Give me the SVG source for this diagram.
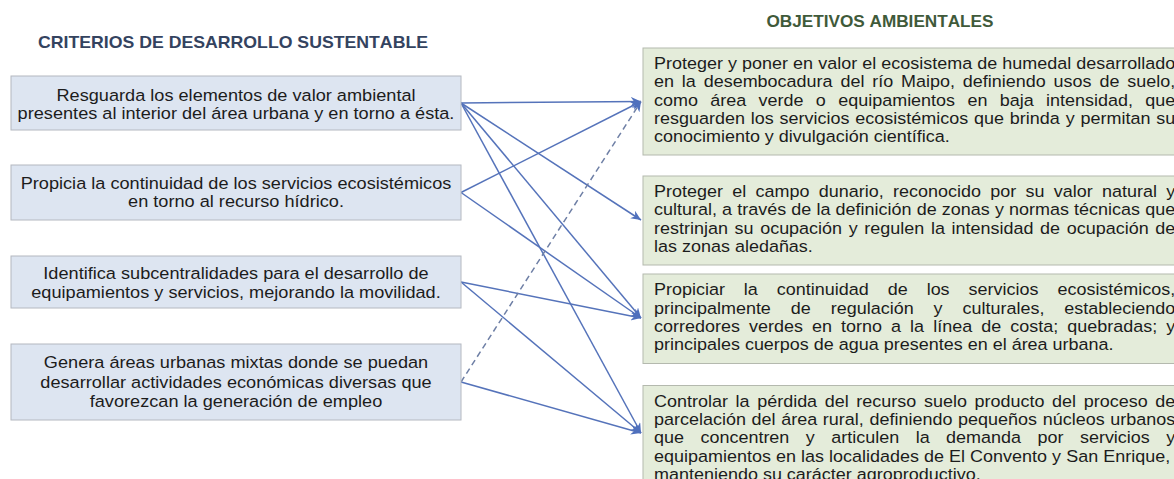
<svg xmlns="http://www.w3.org/2000/svg" width="1174" height="479" viewBox="0 0 1174 479">
<defs>
<style>
.t{font-family:"Liberation Sans",Arial,sans-serif;font-size:17px;fill:#1c1c1c;font-kerning:none}
.hd{font-family:"Liberation Sans",Arial,sans-serif;font-weight:bold;font-kerning:none}
.lb{fill:#dde5f1;stroke:#b4b8c0;stroke-width:1}
.rb{fill:#e4ecda;stroke:#b4b9ae;stroke-width:1}
.c{fill:none;stroke:#5573ba;stroke-width:1.5;marker-end:url(#ah)}
.d{fill:none;stroke:#6e7fa5;stroke-width:1.5;stroke-dasharray:6 4;marker-end:url(#ah)}
</style>
<marker id="ah" markerUnits="userSpaceOnUse" markerWidth="11" markerHeight="9" refX="10" refY="4.5" orient="auto">
<path d="M0,0 L10,4.5 L0,9 L3,4.5 z" fill="#4f70bd"/>
</marker>
</defs>
<rect width="1174" height="479" fill="#ffffff"/>
<text class="hd" x="233" y="48" font-size="17" fill="#34435f" text-anchor="middle" textLength="390" lengthAdjust="spacingAndGlyphs">CRITERIOS DE DESARROLLO SUSTENTABLE</text>
<text class="hd" x="880" y="27" font-size="16" fill="#3f5a3a" text-anchor="middle" textLength="227" lengthAdjust="spacingAndGlyphs">OBJETIVOS AMBIENTALES</text>

<g id="connectors">
<line class="c" x1="461" y1="103" x2="641" y2="101.5"/>
<line class="c" x1="461" y1="103" x2="641" y2="220"/>
<line class="c" x1="461" y1="103" x2="641" y2="318"/>
<line class="c" x1="461" y1="103" x2="641" y2="433"/>
<line class="c" x1="461" y1="192.5" x2="641" y2="101.5"/>
<line class="c" x1="461" y1="192.5" x2="641" y2="318"/>
<line class="c" x1="461" y1="282" x2="641" y2="318"/>
<line class="c" x1="461" y1="282" x2="641" y2="433"/>
<line class="d" x1="461" y1="382" x2="641" y2="101.5"/>
<line class="c" x1="461" y1="382" x2="641" y2="433"/>
</g>

<g id="criterio1">
<rect class="lb" x="11" y="76" width="450" height="54"/>
<text class="t" text-anchor="middle" transform="translate(236 0) scale(1.068 1)"><tspan x="0" y="101">Resguarda los elementos de valor ambiental</tspan><tspan x="0" y="119.5">presentes al interior del área urbana y en torno a ésta.</tspan></text>
</g>
<g id="criterio2">
<rect class="lb" x="11" y="165" width="450" height="55"/>
<text class="t" text-anchor="middle" transform="translate(236 0) scale(1.068 1)"><tspan x="0" y="189">Propicia la continuidad de los servicios ecosistémicos</tspan><tspan x="0" y="207.5">en torno al recurso hídrico.</tspan></text>
</g>
<g id="criterio3">
<rect class="lb" x="11" y="256" width="450" height="52"/>
<text class="t" text-anchor="middle" transform="translate(236 0) scale(1.068 1)"><tspan x="0" y="279">Identifica subcentralidades para el desarrollo de</tspan><tspan x="0" y="297.5">equipamientos y servicios, mejorando la movilidad.</tspan></text>
</g>
<g id="criterio4">
<rect class="lb" x="11" y="344" width="450" height="76"/>
<text class="t" text-anchor="middle" transform="translate(236 0) scale(1.068 1)"><tspan x="0" y="368.5">Genera áreas urbanas mixtas donde se puedan</tspan><tspan x="0" y="388">desarrollar actividades económicas diversas que</tspan><tspan x="0" y="407.5">favorezcan la generación de empleo</tspan></text>
</g>

<g id="objetivo1">
<rect class="rb" x="643" y="48" width="560" height="107"/>
<text class="t" transform="translate(654 0) scale(1.058 1)"><tspan x="0" y="69" style="word-spacing:0.08px">Proteger y poner en valor el ecosistema de humedal desarrollado</tspan><tspan x="0" y="87.3" style="word-spacing:2.7px">en la desembocadura del río Maipo, definiendo usos de suelo,</tspan><tspan x="0" y="105.6" style="word-spacing:6.94px">como área verde o equipamientos en baja intensidad, que</tspan><tspan x="0" y="123.9" style="word-spacing:0.81px">resguarden los servicios ecosistémicos que brinda y permitan su</tspan><tspan x="0" y="142.2">conocimiento y divulgación científica.</tspan></text>
</g>
<g id="objetivo2">
<rect class="rb" x="643" y="176" width="560" height="89"/>
<text class="t" transform="translate(654 0) scale(1.058 1)"><tspan x="0" y="197" style="word-spacing:4.07px">Proteger el campo dunario, reconocido por su valor natural y</tspan><tspan x="0" y="215.4" style="word-spacing:0.15px">cultural, a través de la definición de zonas y normas técnicas que</tspan><tspan x="0" y="233.8" style="word-spacing:1.55px">restrinjan su ocupación y regulen la intensidad de ocupación de</tspan><tspan x="0" y="252.2">las zonas aledañas.</tspan></text>
</g>
<g id="objetivo3">
<rect class="rb" x="643" y="274" width="560" height="89.5"/>
<text class="t" transform="translate(654 0) scale(1.058 1)"><tspan x="0" y="295.2" style="word-spacing:13.2px">Propiciar la continuidad de los servicios ecosistémicos,</tspan><tspan x="0" y="313.6" style="word-spacing:14.13px">principalmente de regulación y culturales, estableciendo</tspan><tspan x="0" y="332" style="word-spacing:3.85px">corredores verdes en torno a la línea de costa; quebradas; y</tspan><tspan x="0" y="350.4">principales cuerpos de agua presentes en el área urbana.</tspan></text>
</g>
<g id="objetivo4">
<rect class="rb" x="643" y="385.5" width="560" height="111"/>
<text class="t" transform="translate(654 0) scale(1.058 1)"><tspan x="0" y="406.6" style="word-spacing:2.5px">Controlar la pérdida del recurso suelo producto del proceso de</tspan><tspan x="0" y="425" style="word-spacing:0.64px">parcelación del área rural, definiendo pequeños núcleos urbanos</tspan><tspan x="0" y="443.4" style="word-spacing:10.84px">que concentren y articulen la demanda por servicios y</tspan><tspan x="0" y="461.8" style="word-spacing:0.07px">equipamientos en las localidades de El Convento y San Enrique,</tspan><tspan x="0" y="480.2">manteniendo su carácter agroproductivo.</tspan></text>
</g>
</svg>
